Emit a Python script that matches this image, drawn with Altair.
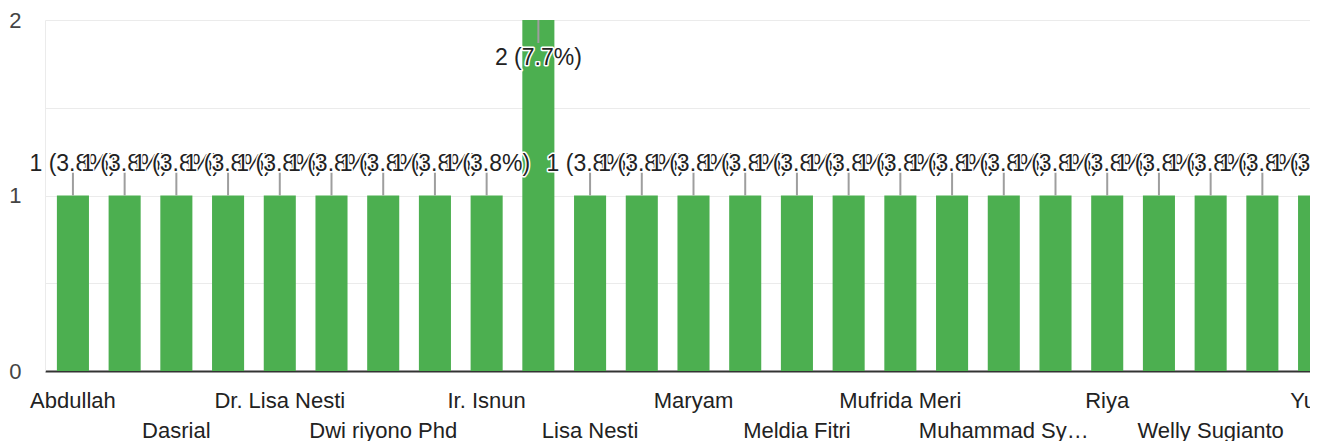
import json
import altair as alt
import pandas as pd

FONT = "Liberation Sans"

# Categories (sorted, as in the form summary); hidden in-between labels are estimates
names = ["Abdullah", "Ahmad Fauzi", "Dasrial", "Desi Ratnasari", "Dr. Lisa Nesti",
         "Dr. Rahmat", "Dwi riyono Phd", "Hendra", "Ir. Isnun", "Lisa", "Lisa Nesti",
         "Mardiana", "Maryam", "Meiliza", "Meldia Fitri", "Mirna", "Mufrida Meri",
         "Muhammad Ali", "Muhammad Syahputra Nasution", "Nurhayati", "Riya",
         "Siti Aminah", "Welly Sugianto", "Yanti", "Yulia"]
counts = [1, 1, 1, 1, 1, 1, 1, 1, 1, 2, 1, 1, 1, 1, 1, 1, 1, 1, 1, 1, 1, 1, 1, 1, 1]
y_ticks = [0, 0.5, 1, 1.5, 2]

total = sum(counts)
labels = [f"{c} ({c / total * 100:.1f}%)" for c in counts]
df = pd.DataFrame({"name": names, "count": counts, "label": labels,
                   "order": list(range(len(names)))})

arr = json.dumps(names)
x_label_expr = (f"indexof({arr}, datum.value) % 4 == 0 ? datum.label : "
                f"(indexof({arr}, datum.value) % 4 == 2 ? ['', datum.label] : '')")

x_enc = alt.X(
    "name:N", sort=names,
    scale=alt.Scale(domain=names, range=[0, 1297], paddingInner=0.38, paddingOuter=0.23),
    axis=alt.Axis(title=None, labelExpr=x_label_expr, labelAngle=0, labelAlign="center",
                  labelBaseline="top", labelPadding=19, ticks=False, tickSize=0,
                  domainColor="#333333", domainWidth=2, labelFont=FONT, labelFontSize=22,
                  labelColor="#222222", labelLimit=176, labelLineHeight=30, grid=False,
                  labelOverlap=False),
)
y_enc = alt.Y(
    "count:Q",
    scale=alt.Scale(domain=[0, 2], nice=False, zero=True),
    axis=alt.Axis(title=None, values=y_ticks,
                  labelExpr="datum.value % 1 == 0 ? format(datum.value, 'd') : ''",
                  grid=True, gridColor="#ebebeb", gridWidth=1, domain=True,
                  domainColor="#ebebeb", ticks=False, tickSize=0, labelPadding=24,
                  labelFont=FONT, labelFontSize=22, labelColor="#444444",
                  labelBaseline="middle"),
)

base = alt.Chart(df)
bars = base.mark_bar(color="#4caf50").encode(x=x_enc, y=y_enc)

stem_low = base.transform_filter("datum.count < 2").mark_rule(
    color="#9e9e9e", strokeWidth=2, y2Offset=-23
).encode(x=x_enc, y=y_enc, y2=alt.Y2("count"))
stem_high = base.transform_filter("datum.count >= 2").mark_rule(
    color="#9e9e9e", strokeWidth=2, y2Offset=23
).encode(x=x_enc, y=y_enc, y2=alt.Y2("count"))

text_layers = []
for i, c in enumerate(counts):
    dy = -25 if c < 2 else 45
    one = base.transform_filter(alt.datum.order == i)
    halo = one.mark_text(dy=dy, font=FONT, fontSize=23, fill="white", stroke="white",
                         strokeWidth=3, strokeJoin="round", align="center",
                         baseline="alphabetic").encode(x=x_enc, y=y_enc, text="label:N")
    fill = one.mark_text(dy=dy, font=FONT, fontSize=23, fill="#222222", align="center",
                         baseline="alphabetic").encode(x=x_enc, y=y_enc, text="label:N")
    text_layers += [halo, fill]

chart = alt.layer(bars, stem_low, stem_high, *text_layers).properties(
    width=1265, height=351,
    padding={"left": 37, "top": 12, "right": 0, "bottom": 70},
    autosize=alt.AutoSizeParams(type="none"),
    background="white",
).configure_view(stroke=None)

chart.save("out.html", embed_options={"renderer": "svg", "actions": False})
